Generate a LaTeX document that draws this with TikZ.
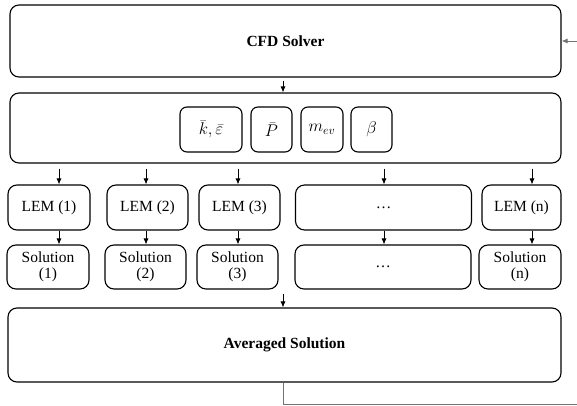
\documentclass[tikz,border=0pt]{standalone}
\usepackage{fix-cm}
\usepackage{fontspec}
\setmainfont{Liberation Serif}
\usetikzlibrary{arrows.meta}
\begin{document}
\begin{tikzpicture}[x=1pt,y=-1pt,
  box/.style={draw=black,line width=1.1pt,rounded corners=9pt,inner sep=0pt,align=center,font=\fontsize{15.5}{16}\selectfont},
  ibox/.style={box,rounded corners=7pt,font=\fontsize{17}{18}\selectfont},
  arr/.style={line width=0.8pt,-{Latex[length=6pt,width=5pt]}},
  garr/.style={arr,draw=black!55}]
\useasboundingbox (0,0) rectangle (577,406);
\node[box,minimum width=551pt,minimum height=72pt] (cfd) at (285.5,41) {\textbf{CFD Solver}};
\node[box,minimum width=551pt,minimum height=70pt] (par) at (285.5,128) {};
\node[ibox,minimum width=62pt,minimum height=45pt] (k) at (211,129.5) {$\bar{k},\bar{\varepsilon}$};
\node[ibox,minimum width=41pt,minimum height=45pt] (p) at (271.5,129.5) {$\bar{P}$};
\node[ibox,minimum width=42pt,minimum height=45pt] (m) at (322,129.5) {$m_{ev}$};
\node[ibox,minimum width=41pt,minimum height=45pt] (b) at (371.5,129.5) {$\beta$};
% LEM row
\node[box,minimum width=82pt,minimum height=45pt] (l1) at (49,207.5) {LEM (1)};
\node[box,minimum width=81pt,minimum height=45pt] (l2) at (147.5,207.5) {LEM (2)};
\node[box,minimum width=81pt,minimum height=45pt] (l3) at (239.5,207.5) {LEM (3)};
\node[box,minimum width=176pt,minimum height=45pt] (ld) at (383.5,207.5) {\dots};
\node[box,minimum width=79pt,minimum height=45pt] (ln) at (521.5,207.5) {LEM (n)};
% Solution row
\node[box,minimum width=82pt,minimum height=44pt] (s1) at (48,267) {Solution\\(1)};
\node[box,minimum width=81pt,minimum height=44pt] (s2) at (145.5,267) {Solution\\(2)};
\node[box,minimum width=81pt,minimum height=44pt] (s3) at (237.5,267) {Solution\\(3)};
\node[box,minimum width=176pt,minimum height=44pt] (sd) at (383,267) {\dots};
\node[box,minimum width=82pt,minimum height=44pt] (sn) at (520,267) {Solution\\(n)};
% Averaged
\node[box,minimum width=553pt,minimum height=74pt] (avg) at (284.5,345) {\textbf{Averaged Solution}};
% arrows
\draw[arr] (cfd.south -| 283,0) ++(0,3) -- (par.north -| 283,0);
\foreach \n/\xx in {l1/59,l2/146,l3/238,ld/384,ln/532}{
  \draw[arr] (par.south -| \xx,0) ++(0,5) -- (\n.north -| \xx,0);
}
\foreach \a/\b/\xx in {l1/s1/59,l2/s2/146,l3/s3/238,ld/sd/384,ln/sn/532}{
  \draw[arr] (\a.south -| \xx,0) -- (\b.north -| \xx,0);
}
\draw[arr] (s3.south -| 283,0) ++(0,4) -- (avg.north -| 283,0);
% feedback
\coordinate (fb1) at (283,404);
\coordinate (fb2) at (579,404);
\coordinate (fb3) at (579,41);
\draw[garr] (avg.south -| fb1) -- (fb1) -- (fb2) -- (fb3) -- (cfd.east);
\end{tikzpicture}
\end{document}
